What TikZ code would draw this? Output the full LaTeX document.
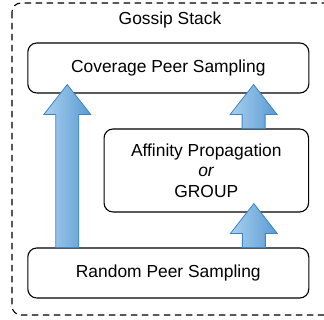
\documentclass[tikz,border=0pt]{standalone}
\usepackage{fontspec}
\setmainfont{Liberation Sans}
\usetikzlibrary{calc}

\definecolor{arrowlight}{HTML}{A9D0EF}
\definecolor{arrowdark}{HTML}{5A9AD3}
\definecolor{arrowline}{HTML}{3B85C5}

% fat upward arrow: #1 foot of the shaft, #2 edge the tip reaches into
\newcommand{\fatarrow}[2]{
  \draw[fatarrow] let \p1=(#1), \p2=(#2) in
    (\x1-11.5pt,\y1) -- (\x1-11.5pt,\y2-21pt) -- (\x1-23.5pt,\y2-21pt)
    -- (\x1,\y2+9pt) -- (\x1+23.5pt,\y2-21pt) -- (\x1+11.5pt,\y2-21pt)
    -- (\x1+11.5pt,\y1) -- cycle;
}

\begin{document}
\begin{tikzpicture}[x=1pt,y=-1pt,
    layer/.style={draw,line width=1.1pt,rounded corners=9pt,fill=white,
      minimum width=281pt,minimum height=50pt,inner sep=0pt,align=center},
    fatarrow/.style={draw=arrowline,line width=0.8pt,left color=arrowlight,right color=arrowdark},
    font=\fontsize{17.4}{20.5}\selectfont]
  \useasboundingbox (0,0) rectangle (324,320);
  % container
  \draw[line width=1.1pt,dash pattern=on 6.5pt off 4.5pt,rounded corners=9pt] (12,3) rectangle (336,315);
  \node (title) at (170,20) {Gossip Stack};
  % layers
  \node[layer] (coverage) at (168.3,68) {Coverage Peer Sampling};
  \node[layer,minimum width=204.5pt,minimum height=83pt] (affinity) at (206.3,170.5)
    {Affinity Propagation\\\textit{or}\\GROUP};
  \node[layer] (random) at (168.3,273) {Random Peer Sampling};
  % arrows
  \fatarrow{$(random.north west)+(40,0)$}{$(coverage.south west)+(40,0)$}
  \fatarrow{$(random.north east)+(-55.5,0)$}{$(affinity.south east)+(-55.5,0)$}
  \fatarrow{$(affinity.north east)+(-55.5,0)$}{$(coverage.south east)+(-55.5,0)$}
\end{tikzpicture}
\end{document}
